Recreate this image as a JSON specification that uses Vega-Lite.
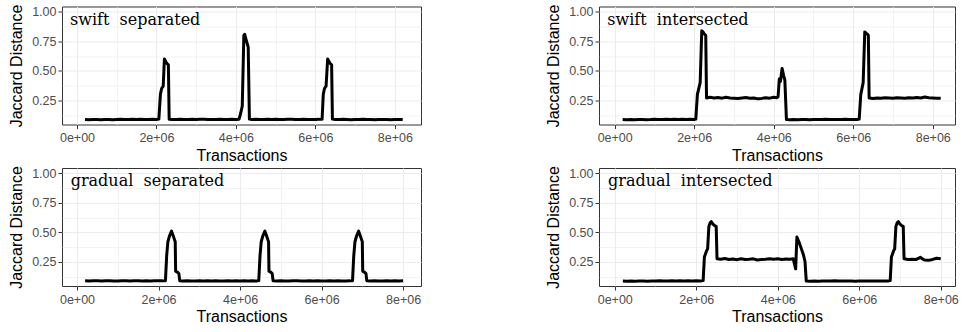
{
  "$schema": "https://vega.github.io/schema/vega-lite/v6.json",
  "background": "white",
  "padding": {"left": 8, "top": 3.5, "right": 5, "bottom": 5},
  "columns": 2,
  "bounds": "flush",
  "spacing": {"row": 43.5, "column": 178},
  "datasets": {
    "ss": [
      {"x":200000,"y":0.086},{"x":300000,"y":0.085},{"x":400000,"y":0.087},{"x":500000,"y":0.086},{"x":600000,"y":0.085},{"x":700000,"y":0.087},{"x":800000,"y":0.086},{"x":900000,"y":0.084},{"x":1000000,"y":0.086},{"x":1100000,"y":0.088},{"x":1200000,"y":0.087},{"x":1300000,"y":0.086},{"x":1400000,"y":0.088},{"x":1500000,"y":0.087},{"x":1600000,"y":0.089},{"x":1700000,"y":0.087},{"x":1800000,"y":0.086},{"x":1900000,"y":0.088},{"x":2000000,"y":0.087},
      {"x":2060000,"y":0.09},{"x":2100000,"y":0.3},{"x":2130000,"y":0.35},{"x":2170000,"y":0.37},{"x":2200000,"y":0.6},{"x":2230000,"y":0.58},{"x":2270000,"y":0.56},{"x":2300000,"y":0.55},{"x":2320000,"y":0.09},
      {"x":2400000,"y":0.087},{"x":2500000,"y":0.086},{"x":2600000,"y":0.088},{"x":2700000,"y":0.087},{"x":2800000,"y":0.086},{"x":2900000,"y":0.088},{"x":3000000,"y":0.087},{"x":3100000,"y":0.089},{"x":3200000,"y":0.088},{"x":3300000,"y":0.086},{"x":3400000,"y":0.087},{"x":3500000,"y":0.086},{"x":3600000,"y":0.088},{"x":3700000,"y":0.087},{"x":3800000,"y":0.086},{"x":3900000,"y":0.088},{"x":4000000,"y":0.087},
      {"x":4080000,"y":0.09},{"x":4120000,"y":0.14},{"x":4160000,"y":0.2},{"x":4200000,"y":0.8},{"x":4220000,"y":0.81},{"x":4260000,"y":0.76},{"x":4310000,"y":0.7},{"x":4340000,"y":0.09},
      {"x":4400000,"y":0.087},{"x":4500000,"y":0.088},{"x":4600000,"y":0.086},{"x":4700000,"y":0.087},{"x":4800000,"y":0.089},{"x":4900000,"y":0.087},{"x":5000000,"y":0.088},{"x":5100000,"y":0.086},{"x":5200000,"y":0.087},{"x":5300000,"y":0.089},{"x":5400000,"y":0.088},{"x":5500000,"y":0.087},{"x":5600000,"y":0.086},{"x":5700000,"y":0.088},{"x":5800000,"y":0.087},{"x":5900000,"y":0.086},{"x":6000000,"y":0.087},{"x":6100000,"y":0.088},
      {"x":6170000,"y":0.09},{"x":6200000,"y":0.3},{"x":6230000,"y":0.35},{"x":6270000,"y":0.37},{"x":6310000,"y":0.6},{"x":6340000,"y":0.58},{"x":6380000,"y":0.56},{"x":6410000,"y":0.55},{"x":6430000,"y":0.09},
      {"x":6500000,"y":0.087},{"x":6600000,"y":0.086},{"x":6700000,"y":0.088},{"x":6800000,"y":0.087},{"x":6900000,"y":0.085},{"x":7000000,"y":0.087},{"x":7100000,"y":0.086},{"x":7200000,"y":0.088},{"x":7300000,"y":0.087},{"x":7400000,"y":0.086},{"x":7500000,"y":0.085},{"x":7600000,"y":0.087},{"x":7700000,"y":0.086},{"x":7800000,"y":0.087},{"x":7900000,"y":0.085},{"x":8000000,"y":0.086},{"x":8100000,"y":0.087},{"x":8200000,"y":0.086}
    ],
    "si": [
      {"x":200000,"y":0.086},{"x":300000,"y":0.085},{"x":400000,"y":0.086},{"x":500000,"y":0.085},{"x":600000,"y":0.087},{"x":700000,"y":0.086},{"x":800000,"y":0.085},{"x":900000,"y":0.086},{"x":1000000,"y":0.088},{"x":1100000,"y":0.087},{"x":1200000,"y":0.086},{"x":1300000,"y":0.088},{"x":1400000,"y":0.087},{"x":1500000,"y":0.089},{"x":1600000,"y":0.087},{"x":1700000,"y":0.088},{"x":1800000,"y":0.087},{"x":1900000,"y":0.088},{"x":2000000,"y":0.087},
      {"x":2040000,"y":0.09},{"x":2080000,"y":0.3},{"x":2150000,"y":0.4},{"x":2190000,"y":0.84},{"x":2220000,"y":0.83},{"x":2260000,"y":0.81},{"x":2290000,"y":0.8},{"x":2310000,"y":0.27},
      {"x":2400000,"y":0.275},{"x":2500000,"y":0.27},{"x":2600000,"y":0.273},{"x":2700000,"y":0.268},{"x":2800000,"y":0.276},{"x":2900000,"y":0.27},{"x":3000000,"y":0.268},{"x":3100000,"y":0.266},{"x":3200000,"y":0.27},{"x":3300000,"y":0.273},{"x":3400000,"y":0.268},{"x":3500000,"y":0.27},{"x":3600000,"y":0.262},{"x":3700000,"y":0.266},{"x":3800000,"y":0.272},{"x":3900000,"y":0.268},{"x":4000000,"y":0.276},{"x":4080000,"y":0.272},
      {"x":4110000,"y":0.28},{"x":4140000,"y":0.43},{"x":4170000,"y":0.41},{"x":4210000,"y":0.52},{"x":4250000,"y":0.46},{"x":4280000,"y":0.42},{"x":4320000,"y":0.086},
      {"x":4400000,"y":0.085},{"x":4500000,"y":0.086},{"x":4600000,"y":0.085},{"x":4700000,"y":0.087},{"x":4800000,"y":0.086},{"x":4900000,"y":0.085},{"x":5000000,"y":0.086},{"x":5100000,"y":0.087},{"x":5200000,"y":0.086},{"x":5300000,"y":0.088},{"x":5400000,"y":0.087},{"x":5500000,"y":0.086},{"x":5600000,"y":0.087},{"x":5700000,"y":0.086},{"x":5800000,"y":0.088},{"x":5900000,"y":0.087},{"x":6000000,"y":0.086},{"x":6100000,"y":0.087},
      {"x":6150000,"y":0.09},{"x":6190000,"y":0.3},{"x":6250000,"y":0.4},{"x":6290000,"y":0.83},{"x":6320000,"y":0.82},{"x":6360000,"y":0.81},{"x":6380000,"y":0.8},{"x":6400000,"y":0.27},
      {"x":6500000,"y":0.265},{"x":6600000,"y":0.27},{"x":6700000,"y":0.268},{"x":6800000,"y":0.272},{"x":6900000,"y":0.27},{"x":7000000,"y":0.268},{"x":7100000,"y":0.272},{"x":7200000,"y":0.27},{"x":7300000,"y":0.268},{"x":7400000,"y":0.272},{"x":7500000,"y":0.27},{"x":7600000,"y":0.274},{"x":7700000,"y":0.27},{"x":7800000,"y":0.278},{"x":7900000,"y":0.272},{"x":8000000,"y":0.27},{"x":8100000,"y":0.268},{"x":8200000,"y":0.268}
    ],
    "gs": [
      {"x":200000,"y":0.088},{"x":300000,"y":0.087},{"x":400000,"y":0.089},{"x":500000,"y":0.088},{"x":600000,"y":0.087},{"x":700000,"y":0.089},{"x":800000,"y":0.088},{"x":900000,"y":0.086},{"x":1000000,"y":0.087},{"x":1100000,"y":0.089},{"x":1200000,"y":0.088},{"x":1300000,"y":0.087},{"x":1400000,"y":0.089},{"x":1500000,"y":0.088},{"x":1600000,"y":0.087},{"x":1700000,"y":0.088},{"x":1800000,"y":0.087},{"x":1900000,"y":0.089},{"x":2000000,"y":0.088},{"x":2100000,"y":0.088},
      {"x":2170000,"y":0.09},{"x":2200000,"y":0.3},{"x":2230000,"y":0.42},{"x":2270000,"y":0.47},{"x":2320000,"y":0.51},{"x":2360000,"y":0.47},{"x":2390000,"y":0.44},{"x":2410000,"y":0.42},{"x":2420000,"y":0.17},{"x":2470000,"y":0.16},{"x":2500000,"y":0.15},{"x":2520000,"y":0.09},
      {"x":2600000,"y":0.087},{"x":2700000,"y":0.088},{"x":2800000,"y":0.086},{"x":2900000,"y":0.087},{"x":3000000,"y":0.088},{"x":3100000,"y":0.087},{"x":3200000,"y":0.089},{"x":3300000,"y":0.087},{"x":3400000,"y":0.088},{"x":3500000,"y":0.087},{"x":3600000,"y":0.086},{"x":3700000,"y":0.088},{"x":3800000,"y":0.087},{"x":3900000,"y":0.088},{"x":4000000,"y":0.087},{"x":4100000,"y":0.088},{"x":4200000,"y":0.086},{"x":4300000,"y":0.088},{"x":4400000,"y":0.087},
      {"x":4460000,"y":0.09},{"x":4490000,"y":0.3},{"x":4520000,"y":0.42},{"x":4560000,"y":0.47},{"x":4610000,"y":0.51},{"x":4650000,"y":0.47},{"x":4680000,"y":0.44},{"x":4700000,"y":0.42},{"x":4710000,"y":0.17},{"x":4760000,"y":0.16},{"x":4790000,"y":0.15},{"x":4810000,"y":0.09},
      {"x":4900000,"y":0.087},{"x":5000000,"y":0.088},{"x":5100000,"y":0.086},{"x":5200000,"y":0.087},{"x":5300000,"y":0.089},{"x":5400000,"y":0.088},{"x":5500000,"y":0.087},{"x":5600000,"y":0.086},{"x":5700000,"y":0.088},{"x":5800000,"y":0.087},{"x":5900000,"y":0.088},{"x":6000000,"y":0.087},{"x":6100000,"y":0.086},{"x":6200000,"y":0.088},{"x":6300000,"y":0.087},{"x":6400000,"y":0.088},{"x":6500000,"y":0.087},{"x":6600000,"y":0.086},{"x":6700000,"y":0.088},
      {"x":6760000,"y":0.09},{"x":6790000,"y":0.3},{"x":6820000,"y":0.42},{"x":6860000,"y":0.47},{"x":6910000,"y":0.51},{"x":6950000,"y":0.47},{"x":6980000,"y":0.44},{"x":7000000,"y":0.42},{"x":7010000,"y":0.17},{"x":7060000,"y":0.16},{"x":7090000,"y":0.15},{"x":7110000,"y":0.09},
      {"x":7200000,"y":0.087},{"x":7300000,"y":0.088},{"x":7400000,"y":0.087},{"x":7500000,"y":0.086},{"x":7600000,"y":0.088},{"x":7700000,"y":0.087},{"x":7800000,"y":0.088},{"x":7900000,"y":0.087},{"x":8000000,"y":0.089}
    ],
    "gi": [
      {"x":200000,"y":0.086},{"x":300000,"y":0.085},{"x":400000,"y":0.086},{"x":500000,"y":0.085},{"x":600000,"y":0.086},{"x":700000,"y":0.087},{"x":800000,"y":0.085},{"x":900000,"y":0.086},{"x":1000000,"y":0.087},{"x":1100000,"y":0.088},{"x":1200000,"y":0.086},{"x":1300000,"y":0.087},{"x":1400000,"y":0.088},{"x":1500000,"y":0.087},{"x":1600000,"y":0.088},{"x":1700000,"y":0.087},{"x":1800000,"y":0.088},{"x":1900000,"y":0.087},{"x":2000000,"y":0.088},{"x":2100000,"y":0.087},
      {"x":2170000,"y":0.09},{"x":2200000,"y":0.29},{"x":2250000,"y":0.34},{"x":2280000,"y":0.36},{"x":2310000,"y":0.55},{"x":2340000,"y":0.58},{"x":2370000,"y":0.59},{"x":2410000,"y":0.57},{"x":2460000,"y":0.555},{"x":2490000,"y":0.55},{"x":2510000,"y":0.275},
      {"x":2600000,"y":0.272},{"x":2700000,"y":0.278},{"x":2800000,"y":0.27},{"x":2900000,"y":0.274},{"x":3000000,"y":0.268},{"x":3100000,"y":0.276},{"x":3200000,"y":0.27},{"x":3300000,"y":0.272},{"x":3400000,"y":0.275},{"x":3500000,"y":0.265},{"x":3600000,"y":0.27},{"x":3700000,"y":0.272},{"x":3800000,"y":0.276},{"x":3900000,"y":0.272},{"x":4000000,"y":0.275},{"x":4100000,"y":0.27},{"x":4200000,"y":0.274},{"x":4300000,"y":0.272},{"x":4380000,"y":0.275},
      {"x":4420000,"y":0.22},{"x":4440000,"y":0.19},{"x":4470000,"y":0.46},{"x":4520000,"y":0.42},{"x":4570000,"y":0.37},{"x":4630000,"y":0.31},{"x":4670000,"y":0.25},{"x":4700000,"y":0.086},
      {"x":4800000,"y":0.085},{"x":4900000,"y":0.086},{"x":5000000,"y":0.085},{"x":5100000,"y":0.087},{"x":5200000,"y":0.086},{"x":5300000,"y":0.087},{"x":5400000,"y":0.088},{"x":5500000,"y":0.087},{"x":5600000,"y":0.086},{"x":5700000,"y":0.087},{"x":5800000,"y":0.086},{"x":5900000,"y":0.085},{"x":6000000,"y":0.087},{"x":6100000,"y":0.086},{"x":6200000,"y":0.087},{"x":6300000,"y":0.086},{"x":6400000,"y":0.087},{"x":6500000,"y":0.086},{"x":6600000,"y":0.087},{"x":6700000,"y":0.086},
      {"x":6760000,"y":0.09},{"x":6790000,"y":0.29},{"x":6840000,"y":0.34},{"x":6870000,"y":0.36},{"x":6900000,"y":0.55},{"x":6930000,"y":0.58},{"x":6960000,"y":0.59},{"x":7000000,"y":0.57},{"x":7050000,"y":0.555},{"x":7080000,"y":0.55},{"x":7100000,"y":0.275},
      {"x":7200000,"y":0.27},{"x":7300000,"y":0.272},{"x":7400000,"y":0.27},{"x":7500000,"y":0.288},{"x":7550000,"y":0.275},{"x":7600000,"y":0.265},{"x":7700000,"y":0.262},{"x":7800000,"y":0.27},{"x":7900000,"y":0.28},{"x":8000000,"y":0.275}
    ]
  },
  "concat": [
    {
      "width": 359, "height": 118,
      "layer": [
        {
          "data": {"name": "ss"},
          "mark": {"type": "line", "color": "black", "strokeWidth": 3, "strokeJoin": "round"},
          "encoding": {
            "x": {"field": "x", "type": "quantitative", "scale": {"domain": [-378000, 8660000], "nice": false, "zero": false},
              "axis": {"title": "Transactions", "values": [0,1000000,2000000,3000000,4000000,5000000,6000000,7000000,8000000],
                "labelExpr": "datum.value % 2000000 != 0 ? '' : (datum.value == 0 ? '0e+00' : format(datum.value/1000000, 'd') + 'e+06')",
                "tickOpacity": {"condition": {"test": "datum.value % 2000000 != 0", "value": 0}, "value": 1},
                "gridWidth": {"condition": {"test": "datum.value % 2000000 != 0", "value": 0.6}, "value": 1}}},
            "y": {"field": "y", "type": "quantitative", "scale": {"domain": [0.0445, 1.0455], "nice": false, "zero": false},
              "axis": {"title": "Jaccard Distance", "values": [0.125,0.25,0.375,0.5,0.625,0.75,0.875,1],
                "labelExpr": "(datum.value*4) % 1 != 0 ? '' : format(datum.value, '.2f')",
                "tickOpacity": {"condition": {"test": "(datum.value*4) % 1 != 0", "value": 0}, "value": 1},
                "gridWidth": {"condition": {"test": "(datum.value*4) % 1 != 0", "value": 0.6}, "value": 1}}}
          }
        },
        {
          "data": {"values": [{"label": "swift \u00a0separated"}]},
          "mark": {"type": "text", "font": "DejaVu Serif", "fontSize": 16, "align": "left", "baseline": "alphabetic", "color": "black"},
          "encoding": {
            "x": {"datum": -176000, "type": "quantitative",
              "axis": {"title": "Transactions", "values": [0,1000000,2000000,3000000,4000000,5000000,6000000,7000000,8000000],
                "labelExpr": "datum.value % 2000000 != 0 ? '' : (datum.value == 0 ? '0e+00' : format(datum.value/1000000, 'd') + 'e+06')",
                "tickOpacity": {"condition": {"test": "datum.value % 2000000 != 0", "value": 0}, "value": 1},
                "gridWidth": {"condition": {"test": "datum.value % 2000000 != 0", "value": 0.6}, "value": 1}}},
            "y": {"datum": 0.89, "type": "quantitative",
              "axis": {"title": "Jaccard Distance", "values": [0.125,0.25,0.375,0.5,0.625,0.75,0.875,1],
                "labelExpr": "(datum.value*4) % 1 != 0 ? '' : format(datum.value, '.2f')",
                "tickOpacity": {"condition": {"test": "(datum.value*4) % 1 != 0", "value": 0}, "value": 1},
                "gridWidth": {"condition": {"test": "(datum.value*4) % 1 != 0", "value": 0.6}, "value": 1}}},
            "text": {"field": "label"}
          }
        }
      ]
    },
    {
      "width": 356, "height": 118,
      "layer": [
        {
          "data": {"name": "si"},
          "mark": {"type": "line", "color": "black", "strokeWidth": 3, "strokeJoin": "round"},
          "encoding": {
            "x": {"field": "x", "type": "quantitative", "scale": {"domain": [-395000, 8560000], "nice": false, "zero": false},
              "axis": {"title": "Transactions", "values": [0,1000000,2000000,3000000,4000000,5000000,6000000,7000000,8000000],
                "labelExpr": "datum.value % 2000000 != 0 ? '' : (datum.value == 0 ? '0e+00' : format(datum.value/1000000, 'd') + 'e+06')",
                "tickOpacity": {"condition": {"test": "datum.value % 2000000 != 0", "value": 0}, "value": 1},
                "gridWidth": {"condition": {"test": "datum.value % 2000000 != 0", "value": 0.6}, "value": 1}}},
            "y": {"field": "y", "type": "quantitative", "scale": {"domain": [0.0445, 1.0455], "nice": false, "zero": false},
              "axis": {"title": "Jaccard Distance", "values": [0.125,0.25,0.375,0.5,0.625,0.75,0.875,1],
                "labelExpr": "(datum.value*4) % 1 != 0 ? '' : format(datum.value, '.2f')",
                "tickOpacity": {"condition": {"test": "(datum.value*4) % 1 != 0", "value": 0}, "value": 1},
                "gridWidth": {"condition": {"test": "(datum.value*4) % 1 != 0", "value": 0.6}, "value": 1}}}
          }
        },
        {
          "data": {"values": [{"label": "swift \u00a0intersected"}]},
          "mark": {"type": "text", "font": "DejaVu Serif", "fontSize": 16, "align": "left", "baseline": "alphabetic", "color": "black"},
          "encoding": {
            "x": {"datum": -186000, "type": "quantitative",
              "axis": {"title": "Transactions", "values": [0,1000000,2000000,3000000,4000000,5000000,6000000,7000000,8000000],
                "labelExpr": "datum.value % 2000000 != 0 ? '' : (datum.value == 0 ? '0e+00' : format(datum.value/1000000, 'd') + 'e+06')",
                "tickOpacity": {"condition": {"test": "datum.value % 2000000 != 0", "value": 0}, "value": 1},
                "gridWidth": {"condition": {"test": "datum.value % 2000000 != 0", "value": 0.6}, "value": 1}}},
            "y": {"datum": 0.89, "type": "quantitative",
              "axis": {"title": "Jaccard Distance", "values": [0.125,0.25,0.375,0.5,0.625,0.75,0.875,1],
                "labelExpr": "(datum.value*4) % 1 != 0 ? '' : format(datum.value, '.2f')",
                "tickOpacity": {"condition": {"test": "(datum.value*4) % 1 != 0", "value": 0}, "value": 1},
                "gridWidth": {"condition": {"test": "(datum.value*4) % 1 != 0", "value": 0.6}, "value": 1}}},
            "text": {"field": "label"}
          }
        }
      ]
    },
    {
      "width": 359, "height": 118,
      "layer": [
        {
          "data": {"name": "gs"},
          "mark": {"type": "line", "color": "black", "strokeWidth": 3, "strokeJoin": "round"},
          "encoding": {
            "x": {"field": "x", "type": "quantitative", "scale": {"domain": [-368000, 8440000], "nice": false, "zero": false},
              "axis": {"title": "Transactions", "values": [0,1000000,2000000,3000000,4000000,5000000,6000000,7000000,8000000],
                "labelExpr": "datum.value % 2000000 != 0 ? '' : (datum.value == 0 ? '0e+00' : format(datum.value/1000000, 'd') + 'e+06')",
                "tickOpacity": {"condition": {"test": "datum.value % 2000000 != 0", "value": 0}, "value": 1},
                "gridWidth": {"condition": {"test": "datum.value % 2000000 != 0", "value": 0.6}, "value": 1}}},
            "y": {"field": "y", "type": "quantitative", "scale": {"domain": [0.0445, 1.0455], "nice": false, "zero": false},
              "axis": {"title": "Jaccard Distance", "values": [0.125,0.25,0.375,0.5,0.625,0.75,0.875,1],
                "labelExpr": "(datum.value*4) % 1 != 0 ? '' : format(datum.value, '.2f')",
                "tickOpacity": {"condition": {"test": "(datum.value*4) % 1 != 0", "value": 0}, "value": 1},
                "gridWidth": {"condition": {"test": "(datum.value*4) % 1 != 0", "value": 0.6}, "value": 1}}}
          }
        },
        {
          "data": {"values": [{"label": "gradual \u00a0separated"}]},
          "mark": {"type": "text", "font": "DejaVu Serif", "fontSize": 16, "align": "left", "baseline": "alphabetic", "color": "black"},
          "encoding": {
            "x": {"datum": -155000, "type": "quantitative",
              "axis": {"title": "Transactions", "values": [0,1000000,2000000,3000000,4000000,5000000,6000000,7000000,8000000],
                "labelExpr": "datum.value % 2000000 != 0 ? '' : (datum.value == 0 ? '0e+00' : format(datum.value/1000000, 'd') + 'e+06')",
                "tickOpacity": {"condition": {"test": "datum.value % 2000000 != 0", "value": 0}, "value": 1},
                "gridWidth": {"condition": {"test": "datum.value % 2000000 != 0", "value": 0.6}, "value": 1}}},
            "y": {"datum": 0.89, "type": "quantitative",
              "axis": {"title": "Jaccard Distance", "values": [0.125,0.25,0.375,0.5,0.625,0.75,0.875,1],
                "labelExpr": "(datum.value*4) % 1 != 0 ? '' : format(datum.value, '.2f')",
                "tickOpacity": {"condition": {"test": "(datum.value*4) % 1 != 0", "value": 0}, "value": 1},
                "gridWidth": {"condition": {"test": "(datum.value*4) % 1 != 0", "value": 0.6}, "value": 1}}},
            "text": {"field": "label"}
          }
        }
      ]
    },
    {
      "width": 356, "height": 118,
      "layer": [
        {
          "data": {"name": "gi"},
          "mark": {"type": "line", "color": "black", "strokeWidth": 3, "strokeJoin": "round"},
          "encoding": {
            "x": {"field": "x", "type": "quantitative", "scale": {"domain": [-386000, 8350000], "nice": false, "zero": false},
              "axis": {"title": "Transactions", "values": [0,1000000,2000000,3000000,4000000,5000000,6000000,7000000,8000000],
                "labelExpr": "datum.value % 2000000 != 0 ? '' : (datum.value == 0 ? '0e+00' : format(datum.value/1000000, 'd') + 'e+06')",
                "tickOpacity": {"condition": {"test": "datum.value % 2000000 != 0", "value": 0}, "value": 1},
                "gridWidth": {"condition": {"test": "datum.value % 2000000 != 0", "value": 0.6}, "value": 1}}},
            "y": {"field": "y", "type": "quantitative", "scale": {"domain": [0.0445, 1.0455], "nice": false, "zero": false},
              "axis": {"title": "Jaccard Distance", "values": [0.125,0.25,0.375,0.5,0.625,0.75,0.875,1],
                "labelExpr": "(datum.value*4) % 1 != 0 ? '' : format(datum.value, '.2f')",
                "tickOpacity": {"condition": {"test": "(datum.value*4) % 1 != 0", "value": 0}, "value": 1},
                "gridWidth": {"condition": {"test": "(datum.value*4) % 1 != 0", "value": 0.6}, "value": 1}}}
          }
        },
        {
          "data": {"values": [{"label": "gradual \u00a0intersected"}]},
          "mark": {"type": "text", "font": "DejaVu Serif", "fontSize": 16, "align": "left", "baseline": "alphabetic", "color": "black"},
          "encoding": {
            "x": {"datum": -165000, "type": "quantitative",
              "axis": {"title": "Transactions", "values": [0,1000000,2000000,3000000,4000000,5000000,6000000,7000000,8000000],
                "labelExpr": "datum.value % 2000000 != 0 ? '' : (datum.value == 0 ? '0e+00' : format(datum.value/1000000, 'd') + 'e+06')",
                "tickOpacity": {"condition": {"test": "datum.value % 2000000 != 0", "value": 0}, "value": 1},
                "gridWidth": {"condition": {"test": "datum.value % 2000000 != 0", "value": 0.6}, "value": 1}}},
            "y": {"datum": 0.89, "type": "quantitative",
              "axis": {"title": "Jaccard Distance", "values": [0.125,0.25,0.375,0.5,0.625,0.75,0.875,1],
                "labelExpr": "(datum.value*4) % 1 != 0 ? '' : format(datum.value, '.2f')",
                "tickOpacity": {"condition": {"test": "(datum.value*4) % 1 != 0", "value": 0}, "value": 1},
                "gridWidth": {"condition": {"test": "(datum.value*4) % 1 != 0", "value": 0.6}, "value": 1}}},
            "text": {"field": "label"}
          }
        }
      ]
    }
  ],
  "config": {
    "font": "Liberation Sans",
    "view": {"stroke": "#333333", "strokeWidth": 1},
    "axis": {
      "domain": false,
      "tickColor": "#333333",
      "tickSize": 4,
      "labelColor": "#4D4D4D",
      "labelFont": "Liberation Sans",
      "labelFontSize": 12.5,
      "labelPadding": 2,
      "labelOverlap": false,
      "labelFlush": false,
      "titleFont": "Liberation Sans",
      "titleFontSize": 16,
      "titleFontWeight": "normal",
      "titleColor": "#000000",
      "gridColor": "#EBEBEB"
    },
    "axisX": {"titlePadding": 3, "labelPadding": 3},
    "axisY": {"titlePadding": 7}
  }
}
